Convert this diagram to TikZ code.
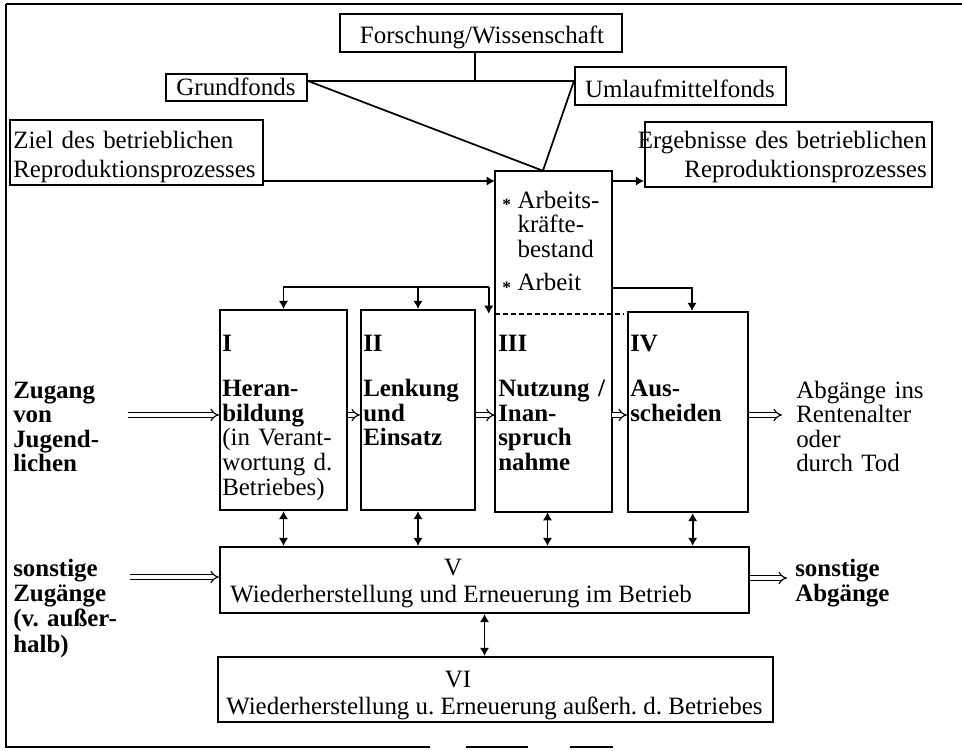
\documentclass[tikz,border=0pt]{standalone}
\usepackage{fontspec}
\setmainfont{Liberation Serif}
\usetikzlibrary{arrows.meta,fit,calc}
\begin{document}
\frenchspacing
\begin{tikzpicture}[x=0.75pt,y=-0.75pt,
  font=\fontsize{18.7}{18.4}\selectfont,
  box/.style={draw, line width=1.6pt, inner sep=0pt},
  hidden/.style={inner sep=0pt},
  frameline/.style={line width=1.6pt},
  conn/.style={line width=1.3pt},
  arr/.style={conn, -{Latex[length=6pt,width=7pt]}},
  biarr/.style={conn, {Latex[length=6pt,width=7pt]}-{Latex[length=6pt,width=7pt]}},
  dbl/.style={double, double distance=2.4pt, line width=0.85pt, -{Implies[scale=1.6]}},
  txt/.style={inner sep=0pt, align=left, text width=260pt},
  rtxt/.style={inner sep=0pt, align=right, text width=260pt}
]
\useasboundingbox (0,0) rectangle (962,750);

% outer frame (partial, as printed)
\draw[conn] (6,4) -- (962,4);
\draw[conn] (6,4) -- (6,747) -- (430,747);
\draw[conn] (466,747) -- (528,747);
\draw[conn] (570,747) -- (613,747);

% top boxes
\node[box, fit={(340,14) (622,52)}] (fw) {};
\node[box, fit={(166,74) (307,101)}] (gf) {};
\node[box, fit={(575,67) (786,105)}] (um) {};
\node[box, fit={(10,120) (263,185)}] (ziel) {};
\node[box, fit={(645,122) (932,187)}] (erg) {};
\node[hidden, anchor=base] (tfw) at (482,43) {Forschung/Wissenschaft};
\node[hidden, anchor=base] (tgf) at (236,95) {Grundfonds};
\node[hidden, anchor=base] (tum) at (680,97) {Umlaufmittelfonds};
\node[txt, anchor=base west, font=\fontsize{18.7}{21.8}\selectfont] (tziel) at (13,148) {Ziel des betrieblichen\\Reproduktionsprozesses};
\node[rtxt, anchor=base east, font=\fontsize{18.7}{21.8}\selectfont] (terg) at (927,148) {Ergebnisse des betrieblichen\\Reproduktionsprozesses};

% Arbeitskraeftebestand box and box III (one frame, dashed divider)
\node[hidden, fit={(495,171) (612,314)}] (A) {};
\node[hidden, fit={(495,314) (612,512)}] (III) {};
\draw[frameline] (A.north west) rectangle (III.south east);
\draw[conn, dash pattern=on 4pt off 2pt] (A.south west) -- ([xshift=8pt]A.south east);

% boxes I, II, IV, V, VI
\node[box, fit={(220,310) (347,510)}] (I) {};
\node[box, fit={(361,310) (475,510)}] (II) {};
\node[box, fit={(628,312) (748,512)}] (IV) {};
\node[box, fit={(220,547) (749,613)}] (V) {};
\node[box, fit={(218,657) (773,722)}] (VI) {};

% texts in boxes
\node[txt, anchor=base west] (tA) at (502,208)
  {\makebox[11.5pt][l]{\raisebox{-2pt}{\fontsize{13}{13}\selectfont\bfseries *}}Arbeits-\\
   \hspace*{11.5pt}kräfte-\\
   \hspace*{11.5pt}bestand\\[7pt]
   \makebox[11.5pt][l]{\raisebox{-2pt}{\fontsize{13}{13}\selectfont\bfseries *}}Arbeit};
\node[txt, anchor=base west] (tI) at (222,351)
  {\textbf{I}\\[16pt]\textbf{Heran-}\\\textbf{bildung}\\(in Verant-\\wortung d.\\Betriebes)};
\node[txt, anchor=base west] (tII) at (363,351)
  {\textbf{II}\\[16pt]\textbf{Lenkung}\\\textbf{und}\\\textbf{Einsatz}};
\node[txt, anchor=base west] (tIII) at (498,351)
  {\textbf{III}\\[16pt]\textbf{Nutzung /}\\\textbf{Inan-}\\\textbf{spruch}\\\textbf{nahme}};
\node[txt, anchor=base west] (tIV) at (630,351)
  {\textbf{IV}\\[16pt]\textbf{Aus-}\\\textbf{scheiden}};
\node[hidden, anchor=base] (tVn) at (453,575) {V};
\node[hidden, anchor=base west] (tV) at (230,602) {Wiederherstellung und Erneuerung im Betrieb};
\node[hidden, anchor=base] (tVIn) at (458,687) {VI};
\node[hidden, anchor=base west] (tVI) at (226,714) {Wiederherstellung u. Erneuerung außerh. d. Betriebes};

% side texts
\node[txt, anchor=base west, font=\fontsize{18.7}{18.4}\selectfont\bfseries] (zug) at (13,398) {Zugang\\von\\Jugend-\\lichen};
\node[txt, anchor=base west, font=\fontsize{18.7}{19}\selectfont\bfseries] (szug) at (13,576) {sonstige\\Zugänge\\(v. außer-\\halb)};
\node[txt, anchor=base west] (abg) at (796,398) {Abgänge ins\\Rentenalter\\oder\\durch Tod};
\node[txt, anchor=base west, font=\fontsize{18.7}{19}\selectfont\bfseries] (sabg) at (795,576) {sonstige\\Abgänge};

% connections at the top
\coordinate (j1) at (475,81);
\draw[conn] (fw.south -| j1) -- (j1);
\draw[conn] (gf.east |- j1) -- (um.west |- j1);
\coordinate (j2) at ($(A.north west)!0.41!(A.north east)$);
\draw[conn] (gf.east |- j1) -- (j2) -- (um.west |- j1);

% goal -> stock -> results
\coordinate (ya) at (0,181);
\draw[arr] (ziel.east |- ya) -- (A.west |- ya);
\draw[arr] (A.east |- ya) -- (erg.west |- ya);

% distribution to I, II, III
\coordinate (yb) at (0,287);
\coordinate (c3) at ([xshift=-4.5pt]III.north west);
\draw[arr] (c3 |- yb) -| (I.north);
\draw[arr] (II.north |- yb) -- (II.north);
\draw[arr] (c3 |- yb) -- (c3);
% to IV
\coordinate (yc) at (0,288);
\coordinate (c4) at ([xshift=3pt]IV.north);
\draw[arr] (A.east |- yc) -| (c4);

% flow (double arrows)
\coordinate (yr) at (0,415);
\coordinate (zs) at (128,415);
\coordinate (ze) at (782,415);
\draw[dbl] (zs) -- (I.west |- yr);
\draw[dbl] (I.east |- yr) -- (II.west |- yr);
\draw[dbl] (II.east |- yr) -- (III.west |- yr);
\draw[dbl] (III.east |- yr) -- (IV.west |- yr);
\draw[dbl] (IV.east |- yr) -- (ze);
\coordinate (sz) at (130,577);
\coordinate (sa) at (787,578);
\draw[dbl] (sz) -- (V.west |- sz);
\draw[dbl] (V.east |- sa) -- (sa);

% exchanges with V and VI
\draw[biarr] (I.south) -- (I.south |- V.north);
\draw[biarr] (II.south) -- (II.south |- V.north);
\coordinate (c3s) at ([xshift=-4.5pt]III.south);
\draw[biarr] (c3s) -- (c3s |- V.north);
\coordinate (c4s) at ([xshift=3.5pt]IV.south);
\draw[biarr] (c4s) -- (c4s |- V.north);
\draw[biarr] (V.south) -- (V.south |- VI.north);
\end{tikzpicture}
\end{document}
